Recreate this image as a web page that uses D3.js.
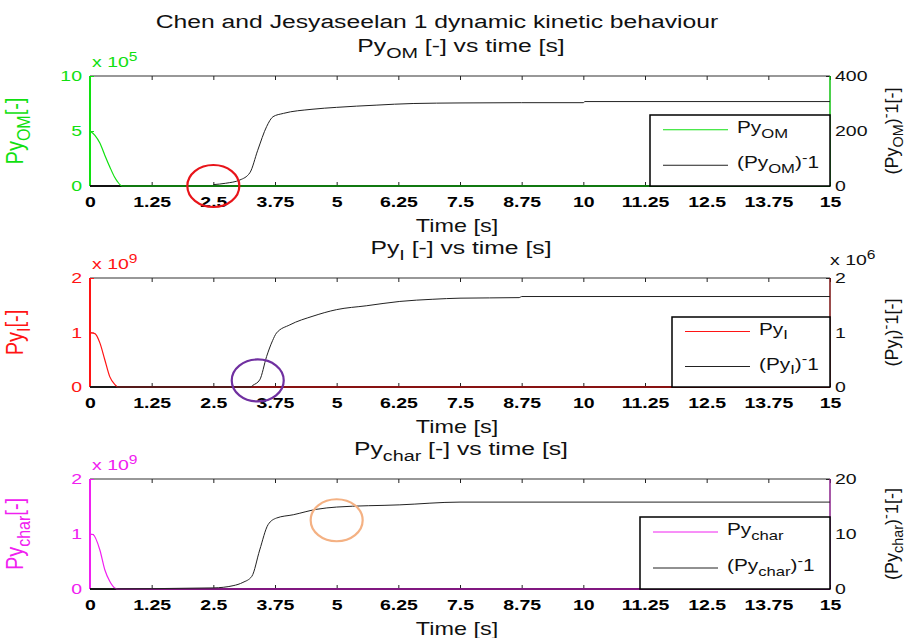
<!DOCTYPE html>
<html>
<head>
<meta charset="utf-8">
<script src="https://cdn.jsdelivr.net/npm/d3@7"></script>
<style>
  body { margin: 0; background: #fff; }
  text { font-family: "Liberation Sans", Arial, sans-serif; }
</style>
</head>
<body>
<script>
const width = 920;
const height = 638;
const SX = 1.3; // the source picture is stretched sideways, so text is too

// shared time axis
const timeTicks = [0, 1.25, 2.5, 3.75, 5, 6.25, 7.5, 8.75, 10, 11.25, 12.5, 13.75, 15];
const timeTickLabels = ["0", "1.25", "2.5", "3.75", "5", "6.25", "7.5", "8.75", "10", "11.25", "12.5", "13.75", "15"];

// Py_OM and its inverse
const omTime = [0, 0.1, 0.2, 0.3, 0.4, 0.5, 0.55, 0.65, 15];
const omValues = [5e5, 4.6e5, 3.9e5, 2.8e5, 1.75e5, 0.8e5, 0.45e5, 0, 0];
const omInvTime = [2.5, 2.75, 3.04, 3.24, 3.4, 3.58, 3.71, 3.92, 4.5, 5.0, 5.8, 6.55, 7.5, 8.75, 10.0, 10.03, 15];
const omInvValues = [5, 10, 22, 48, 130, 216, 252, 264, 279, 286, 294, 300, 302, 303, 303, 307, 307];
const omLeftTicks = [0, 5e5, 1e6];
const omRightTicks = [0, 200, 400];

// Py_I and its inverse
const iTime = [0, 0.1, 0.2, 0.3, 0.4, 0.51, 0.56, 15];
const iValues = [1e9, 0.98e9, 0.81e9, 0.5e9, 0.19e9, 0.04e9, 0, 0];
const iInvTime = [0, 3.25, 3.3, 3.44, 3.58, 3.7, 3.78, 4.05, 4.52, 5.0, 5.6, 6.28, 6.95, 7.5, 8.7, 8.75, 15];
const iInvValues = [0, 0, 0.03e6, 0.13e6, 0.56e6, 0.85e6, 0.99e6, 1.14e6, 1.30e6, 1.42e6, 1.49e6, 1.57e6, 1.61e6, 1.63e6, 1.64e6, 1.66e6, 1.66e6];
const iLeftTicks = [0, 1e9, 2e9];
const iRightTicks = [0, 1e6, 2e6];

// Py_char and its inverse
const charTime = [0, 0.06, 0.2, 0.3, 0.4, 0.5, 0.58, 15];
const charValues = [1e9, 0.99e9, 0.71e9, 0.35e9, 0.14e9, 0.02e9, 0, 0];
const charInvTime = [0, 2.5, 2.9, 3.1, 3.28, 3.44, 3.61, 3.78, 4.12, 4.6, 5.0, 6.28, 7.5, 15];
const charInvValues = [0, 0.2, 0.6, 1.2, 2.3, 7.1, 11.7, 12.9, 13.5, 14.5, 14.9, 15.3, 15.8, 15.8];
const charLeftTicks = [0, 1e9, 2e9];
const charRightTicks = [0, 10, 20];

const svg = d3.select("body").append("svg")
    .attr("width", width)
    .attr("height", height);

// write text made of normal / sub / sup pieces
const rich = (t, parts, size) => {
    let shift = 0;
    parts.forEach(([s, kind]) => {
        const target = kind === "sub" ? size * 0.3 : kind === "sup" ? -size * 0.4 : 0;
        t.append("tspan")
            .attr("dy", target - shift)
            .attr("font-size", kind === "n" ? size : size * 0.8)
            .text(s);
        shift = target;
    });
    return t;
};

// horizontal text, stretched like the source
const htext = (g, x, y, anchor, size) => g.append("text")
    .attr("transform", `translate(${x},${y}) scale(${SX},1)`)
    .attr("text-anchor", anchor)
    .attr("font-size", size);

const x = d3.scaleLinear().domain([0, 15]).range([90, 830]);

svg.call(g => rich(htext(g, 437, 28, "middle", 19).attr("fill", "#111"),
    [["Chen and Jesyaseelan 1 dynamic kinetic behaviour", "n"]], 19));

const drawPanel = (p) => {
    const g = svg.append("g");
    const yL = d3.scaleLinear().domain(p.leftDomain).range([p.bottom, p.top]);
    const yR = d3.scaleLinear().domain(p.rightDomain).range([p.bottom, p.top]);

    // box
    g.append("line").attr("x1", 90).attr("x2", 830).attr("y1", p.top).attr("y2", p.top)
        .attr("stroke", "#333").attr("stroke-width", 1.2);

    // x axis (bottom) and mirrored ticks on top
    const xAxis = g.append("g")
        .attr("transform", `translate(0,${p.bottom})`)
        .call(d3.axisBottom(x).tickValues(timeTicks)
            .tickFormat((d, i) => timeTickLabels[i])
            .tickSizeInner(-4).tickSizeOuter(0).tickPadding(10));
    xAxis.select(".domain").remove();
    xAxis.selectAll(".tick line").attr("stroke", "#222");
    xAxis.selectAll(".tick text")
        .attr("font-size", 15).attr("font-weight", "bold").attr("fill", "#000")
        .attr("font-family", "Liberation Sans, Arial, sans-serif")
        .attr("transform", `scale(${SX},1)`);

    const xTop = g.append("g")
        .attr("transform", `translate(0,${p.top})`)
        .call(d3.axisTop(x).tickValues(timeTicks).tickFormat("")
            .tickSizeInner(-4).tickSizeOuter(0));
    xTop.select(".domain").remove();
    xTop.selectAll(".tick line").attr("stroke", "#222");

    // left axis
    const left = g.append("g")
        .attr("transform", "translate(90,0)")
        .call(d3.axisLeft(yL).tickValues(p.leftTicks).tickFormat(p.leftFmt)
            .tickSizeInner(-4).tickSizeOuter(0).tickPadding(8));
    left.select(".domain").remove();
    left.selectAll(".tick line").attr("stroke", p.color);
    left.selectAll(".tick text")
        .attr("font-size", 15).attr("fill", p.color)
        .attr("font-family", "Liberation Sans, Arial, sans-serif")
        .attr("x", -8 / SX)
        .attr("transform", `scale(${SX},1)`);
    g.append("line").attr("x1", 90).attr("x2", 90).attr("y1", p.top).attr("y2", p.bottom)
        .attr("stroke", p.color).attr("stroke-width", 2);

    // right axis
    const right = g.append("g")
        .attr("transform", "translate(830,0)")
        .call(d3.axisRight(yR).tickValues(p.rightTicks).tickFormat(p.rightFmt)
            .tickSizeInner(-4).tickSizeOuter(0).tickPadding(5));
    right.select(".domain").remove();
    right.selectAll(".tick line").attr("stroke", "#222");
    right.selectAll(".tick text")
        .attr("font-size", 15).attr("fill", "#111")
        .attr("font-family", "Liberation Sans, Arial, sans-serif")
        .attr("x", 5 / SX)
        .attr("transform", `scale(${SX},1)`);
    g.append("line").attr("x1", 830).attr("x2", 830).attr("y1", p.top).attr("y2", p.bottom)
        .attr("stroke", p.edge).attr("stroke-width", 1.5);

    // series
    const lineL = d3.line().x(d => x(d[0])).y(d => yL(d[1])).curve(d3.curveMonotoneX);
    const lineR = d3.line().x(d => x(d[0])).y(d => yR(d[1])).curve(d3.curveMonotoneX);
    g.append("line").attr("x1", 90).attr("x2", 830).attr("y1", p.bottom).attr("y2", p.bottom)
        .attr("stroke", "#111").attr("stroke-width", 2);
    g.append("path").datum(d3.zip(p.time, p.values))
        .attr("d", lineL).attr("fill", "none").attr("stroke", p.color).attr("stroke-width", 1.2);
    g.append("path").datum(d3.zip(p.invTime, p.invValues))
        .attr("d", lineR).attr("fill", "none").attr("stroke", "#222").attr("stroke-width", 1);

    // exponent labels
    rich(htext(g, 92, p.top - 9, "start", 15).attr("fill", p.color),
        [["x 10", "n"], [p.leftExp, "sup"]], 15);
    if (p.rightExp) {
        rich(htext(g, 830, p.top - 13, "start", 15).attr("fill", "#111"),
            [["x 10", "n"], [p.rightExp, "sup"]], 15);
    }

    // titles
    rich(htext(g, 461, p.top - 24, "middle", 19).attr("fill", "#111"),
        [["Py", "n"], [p.sub, "sub"], [" [-] vs time [s]", "n"]], 19);
    rich(htext(g, 457, p.bottom + 46, "middle", 18).attr("fill", "#111"),
        [["Time [s]", "n"]], 18);

    // axis titles, rotated
    const cy = (p.top + p.bottom) / 2;
    rich(g.append("text")
        .attr("transform", `translate(23,${cy}) rotate(-90) scale(1,1.15)`)
        .attr("text-anchor", "middle").attr("font-size", 20).attr("fill", p.color),
        [["Py", "n"], [p.sub, "sub"], ["[-]", "n"]], 20);
    rich(g.append("text")
        .attr("transform", `translate(898,${cy}) rotate(-90)`)
        .attr("text-anchor", "middle").attr("font-size", 18).attr("fill", "#111"),
        [["(Py", "n"], [p.sub, "sub"], [")", "n"], ["-", "sup"], ["1[-]", "n"]], 18);

    // legend
    const lg = g.append("g");
    lg.append("rect")
        .attr("x", p.legendX).attr("y", p.legendY)
        .attr("width", 830 - p.legendX).attr("height", p.bottom - p.legendY)
        .attr("fill", "#fff").attr("stroke", "#000").attr("stroke-width", 1.5);
    const rowH = (p.bottom - p.legendY) / 2;
    const entries = [
        { color: p.color, parts: [["Py", "n"], [p.sub, "sub"]] },
        { color: "#222", parts: [["(Py", "n"], [p.sub, "sub"], [")", "n"], ["-", "sup"], ["1", "n"]] }
    ];
    entries.forEach((e, i) => {
        const yy = p.legendY + rowH * (i + 0.5) - 3;
        lg.append("line")
            .attr("x1", p.legendX + 13).attr("x2", p.legendX + 78)
            .attr("y1", yy).attr("y2", yy)
            .attr("stroke", e.color).attr("stroke-width", 1);
        rich(htext(lg, p.legendX + 87, yy + 3, "start", 16).attr("fill", "#111"), e.parts, 16);
    });

    // hand-drawn highlight circle
    g.append("ellipse")
        .attr("cx", x(p.mark[0])).attr("cy", yR(p.mark[1]))
        .attr("rx", 26).attr("ry", 21)
        .attr("fill", "none").attr("stroke", p.markColor).attr("stroke-width", 2.2);
};

drawPanel({
    top: 76, bottom: 186, sub: "OM", color: "#10e010", edge: "#10c010",
    leftDomain: [0, 1e6], leftTicks: omLeftTicks, leftFmt: d => d / 1e5, leftExp: "5",
    rightDomain: [0, 400], rightTicks: omRightTicks, rightFmt: d => d, rightExp: null,
    time: omTime, values: omValues, invTime: omInvTime, invValues: omInvValues,
    legendX: 650, legendY: 115, mark: [2.5, 0], markColor: "#e8141a"
});

drawPanel({
    top: 278, bottom: 387, sub: "I", color: "#ff1414", edge: "#7a1010",
    leftDomain: [0, 2e9], leftTicks: iLeftTicks, leftFmt: d => d / 1e9, leftExp: "9",
    rightDomain: [0, 2e6], rightTicks: iRightTicks, rightFmt: d => d / 1e6, rightExp: "6",
    time: iTime, values: iValues, invTime: iInvTime, invValues: iInvValues,
    legendX: 672, legendY: 317, mark: [3.4, 0.12e6], markColor: "#7030a0"
});

drawPanel({
    top: 479, bottom: 589, sub: "char", color: "#f020f0", edge: "#8a208a",
    leftDomain: [0, 2e9], leftTicks: charLeftTicks, leftFmt: d => d / 1e9, leftExp: "9",
    rightDomain: [0, 20], rightTicks: charRightTicks, rightFmt: d => d, rightExp: null,
    time: charTime, values: charValues, invTime: charInvTime, invValues: charInvValues,
    legendX: 640, legendY: 517, mark: [5.0, 12.5], markColor: "#f4b183"
});
</script>
</body>
</html>
